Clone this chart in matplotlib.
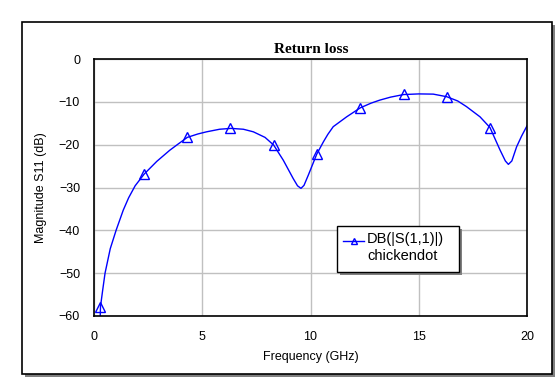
import matplotlib
matplotlib.use("Agg")
import matplotlib.pyplot as plt
from matplotlib.patches import Rectangle
from matplotlib.lines import Line2D

plt.rcParams['font.family'] = ['Liberation Sans', 'DejaVu Sans']

# ---- data ----
freq_ghz = [0.27, 0.3, 0.4, 0.51, 0.75, 1.02, 1.35, 1.6, 1.9, 2.32, 2.9, 3.5, 3.9, 4.31,
            4.8, 5.2, 5.8, 6.33, 6.9, 7.36, 7.9, 8.3, 8.74, 9.2, 9.4, 9.56, 9.7, 9.9,
            10.29, 10.6, 10.8, 11.05, 11.67, 12.3, 12.8, 13.2, 13.7, 14.3, 15.0, 15.67,
            16.29, 16.8, 17.2, 17.83, 18.29, 18.75, 19.0, 19.14, 19.3, 19.52, 19.75, 20.0]
s11_db = [-63.0, -57.8, -54.0, -50.0, -44.3, -40.0, -35.3, -32.4, -29.6, -26.85,
          -23.9, -21.3, -19.8, -18.3, -17.5, -17.0, -16.4, -16.2, -16.4, -17.0, -18.3,
          -20.1, -23.6, -27.9, -29.6, -30.2, -29.5, -27.1, -22.2, -19.3, -17.6, -15.8,
          -13.5, -11.4, -10.3, -9.6, -8.9, -8.3, -8.15, -8.2, -8.8, -9.8, -11.1, -13.5,
          -16.0, -21.2, -23.8, -24.6, -23.8, -20.5, -18.0, -15.6]
marker_freq = [0.3, 2.3, 4.3, 6.3, 8.3, 10.3, 12.3, 14.3, 16.3, 18.3]
marker_db = [-57.8, -26.9, -18.3, -16.1, -20.1, -22.2, -11.4, -8.2, -8.8, -16.0]

x_ticks = [0, 5, 10, 15, 20]
y_ticks = [-60, -50, -40, -30, -20, -10, 0]

title = "Return loss"
x_label = "Frequency (GHz)"
y_label = "Magnitude S11 (dB)"
legend_lines = ["DB(|S(1,1)|)", "chickendot"]

W, H = 556, 378
fig = plt.figure(figsize=(W / 100, H / 100), dpi=100)
fig.patch.set_facecolor('white')


def fx(x):
    return x / W


def fy(y):
    return 1 - y / H


def box(x0, y0, x1, y1, **kw):
    return Rectangle((fx(x0), fy(y1)), fx(x1) - fx(x0), fy(y0) - fy(y1),
                     transform=fig.transFigure, **kw)


# outer frame with shadow
fig.add_artist(box(25, 25, 555, 377, facecolor='#808080', edgecolor='none', zorder=-3))
fig.add_artist(box(22, 22, 552, 374, facecolor='white', edgecolor='black', lw=1.2, zorder=-2))

ax = fig.add_axes([fx(94), fy(316), (527 - 94) / W, (316 - 59) / H])
ax.set_xlim(0, 20)
ax.set_ylim(-60, 0)
ax.set_xticks(x_ticks)
ax.set_yticks(y_ticks)
ax.grid(True, color='#c0c0c0', lw=1)
ax.set_axisbelow(True)
for s in ax.spines.values():
    s.set_linewidth(1.2)
    s.set_color('black')
ax.tick_params(axis='both', length=0, labelsize=9, colors='black')
ax.tick_params(axis='y', pad=10)
ax.tick_params(axis='x', pad=11)

ax.plot(freq_ghz, s11_db, color='#0000ff', lw=1)
ax.plot(marker_freq, marker_db, ls='none', marker='^', mfc='none', mec='#0000ff',
        ms=7, mew=1)

fig.text(fx(311), fy(49.5), title, ha='center', va='center',
         family=['Liberation Serif', 'DejaVu Serif'], weight='bold', fontsize=11)
fig.text(fx(310.5), fy(357), x_label, ha='center', va='center', fontsize=9)
fig.text(fx(41), fy(188), y_label, ha='center', va='center', rotation=90, fontsize=9)

# legend box
fig.add_artist(box(340, 229, 462, 275, facecolor='#808080', edgecolor='none', zorder=10))
fig.add_artist(box(337, 226, 459, 272, facecolor='white', edgecolor='black', lw=1, zorder=11))
fig.add_artist(Line2D([fx(343), fx(364)], [fy(241), fy(241)], transform=fig.transFigure,
                      color='#0000ff', lw=1, zorder=12))
fig.add_artist(Line2D([fx(353.5)], [fy(240.5)], transform=fig.transFigure, ls='none',
                      marker='^', mfc='none', mec='#0000ff', ms=5, mew=1, zorder=12))
fig.text(fx(367), fy(238.5), legend_lines[0], ha='left', va='center', fontsize=10.5,
         zorder=13)
fig.text(fx(367), fy(256.5), legend_lines[1], ha='left', va='center', fontsize=10.5,
         zorder=13)

fig.savefig("out.png", dpi=100)
